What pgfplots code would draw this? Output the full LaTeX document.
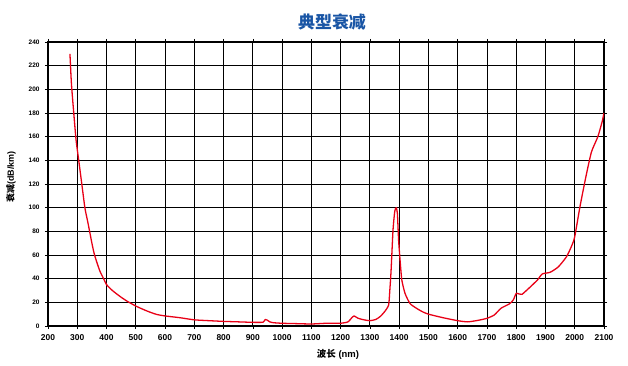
\documentclass[border=0pt]{standalone}
\usepackage{fontspec}
\setmainfont{Liberation Sans}
\newfontfamily\cjk{Noto Sans CJK SC}
\usepackage{pgfplots}
\pgfplotsset{compat=1.18}
\definecolor{titleblue}{RGB}{25,85,165}
\definecolor{curvered}{RGB}{232,0,22}
\begin{document}
\begin{tikzpicture}
\path[use as bounding box] (0,0) rectangle (628bp,366bp);
\begin{axis}[
  at={(48bp,40bp)}, anchor=south west,
  scale only axis, width=556bp, height=284bp,
  xmin=200, xmax=2100, ymin=0, ymax=240,
  xtick={200,300,...,2100}, ytick={0,20,...,240},
  grid=major, major grid style={black, line width=0.9pt},
  axis line style={black, line width=1.6pt},
  tick style={black, line width=0.6pt}, tick align=outside, major tick length=3bp,
  /pgf/number format/assume math mode=true,
  /pgf/number format/set thousands separator={},
  xticklabel style={font=\bfseries\fontsize{8.5}{10}\selectfont, yshift=-2bp},
  yticklabel style={font=\bfseries\fontsize{6.5}{8}\selectfont, xshift=-2bp},
]
\addplot[curvered, line width=1.3pt, line join=round, smooth, tension=0.35] coordinates {
(275,230) (280,205) (288,180) (296,157) (305,140) (315,121) (326,100) (335,89)
(343,79) (350,70) (358,61) (368,53) (378,46) (390,40) (400,35) (420,30) (446,25)
(470,21) (503,16.5) (540,12.5) (571,9.8) (600,8.5) (651,7) (700,5.2) (750,4.5)
(800,3.9) (850,3.5) (900,3.1) (935,3.2) (942,5.5) (949,5) (958,3.5) (970,2.8)
(1000,2.3) (1050,2) (1100,1.7) (1150,2.3) (1200,2.3) (1225,3.5) (1240,7.5)
(1246,8.5) (1260,6.5) (1280,5.2) (1300,4.5) (1320,5.5) (1335,8) (1350,12)
(1364,17.7) (1368,30) (1372,45) (1379,81) (1385,97) (1390,100) (1394,95)
(1398,73) (1403,56) (1409,39) (1420,27.6) (1437,19) (1459,15) (1480,12)
(1500,10) (1550,7) (1600,4.5) (1634,3.5) (1670,4.8) (1700,6.5) (1725,9.3)
(1748,15) (1776,18.6) (1790,22) (1800,27.6) (1810,27) (1820,26.8) (1848,33)
(1873,39) (1889,44) (1916,45.4) (1944,50) (1972,58.6) (1990,68) (2000,75.5)
(2018,101) (2038,126) (2057,147) (2079,160) (2094,173) (2100,180)
};
\end{axis}
\node[text=titleblue, font=\cjk\bfseries\fontsize{17}{19}\selectfont] at (332bp,344bp) {典型衰减};
\node[font=\bfseries\fontsize{9.5}{11}\selectfont] at (338bp,12bp) {{\cjk 波长} (nm)};
\node[rotate=90, font=\bfseries\fontsize{9}{11}\selectfont] at (11bp,189bp) {{\cjk 衰减}(dB/km)};
\end{tikzpicture}
\end{document}
